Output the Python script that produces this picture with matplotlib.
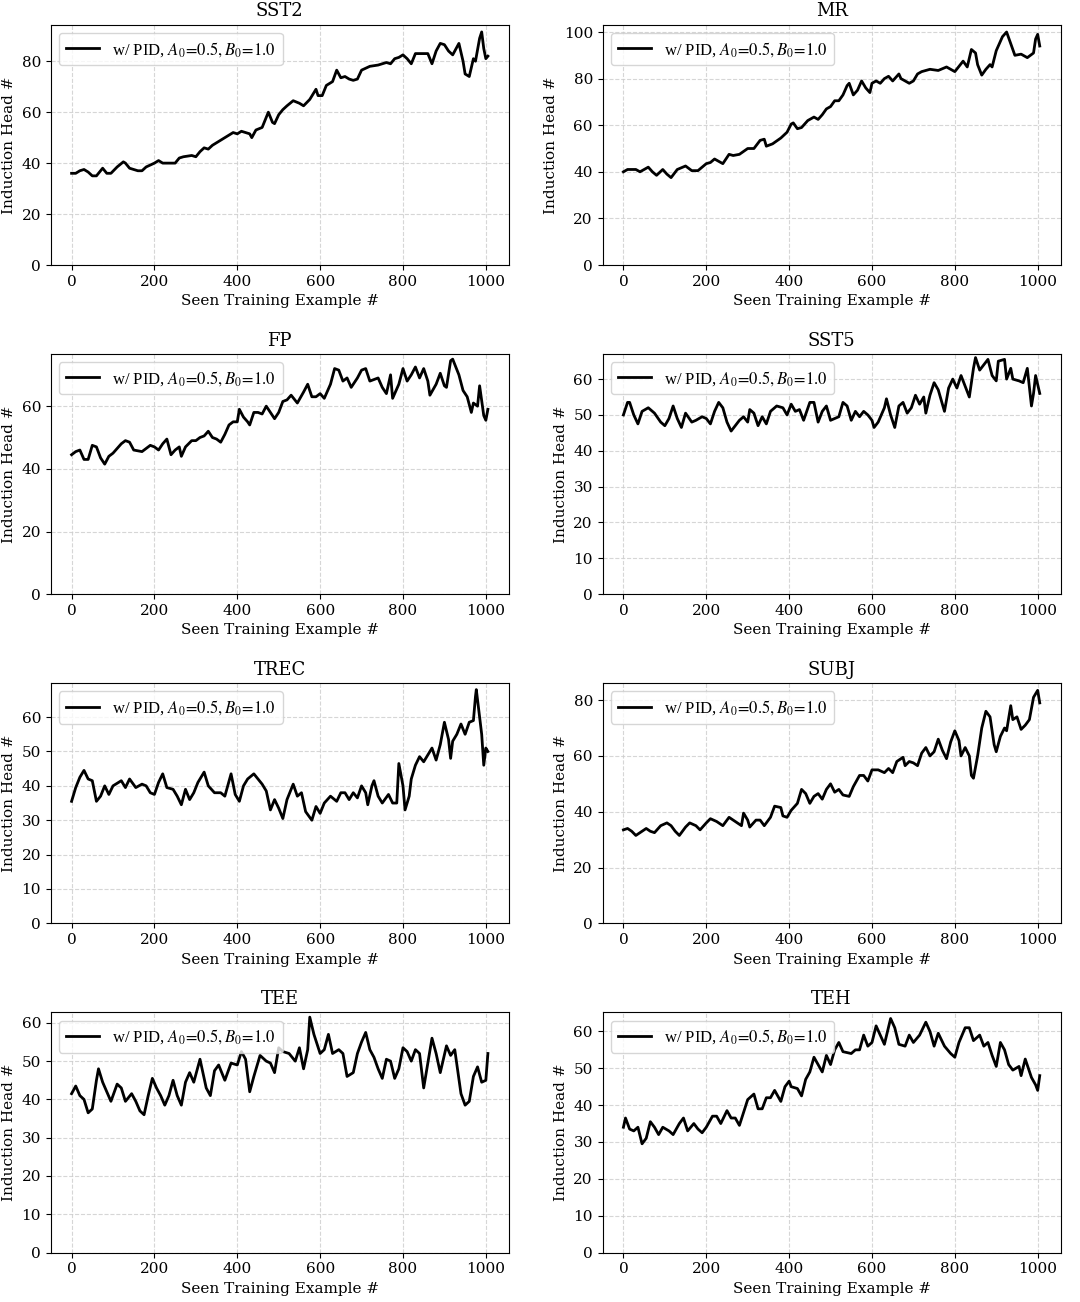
import matplotlib
matplotlib.use("Agg")
import matplotlib.pyplot as plt

plt.rcParams["font.family"] = "DejaVu Serif"
plt.rcParams["mathtext.fontset"] = "stix"

titles = ["SST2", "MR", "FP", "SST5", "TREC", "SUBJ", "TEE", "TEH"]
legend_label = r"w/ PID, $A_0\!=\!0.5, B_0\!=\!1.0$"

# (seen example, induction head count)
sst2 = [(0, 36), (10, 36), (20, 37), (30, 37.5), (40, 36.5), (50, 35), (60, 35), (70, 37),
        (75, 38), (85, 36), (95, 36), (110, 38.5), (125, 40.5), (130, 40), (140, 38),
        (160, 37), (170, 37), (180, 38.5), (200, 40), (210, 41), (220, 40), (240, 40),
        (250, 40), (260, 42), (270, 42.5), (290, 43), (300, 42.5), (310, 44.5), (320, 46),
        (330, 45.5), (340, 47), (360, 49), (380, 51), (390, 52), (400, 51.5), (410, 52.5),
        (420, 52), (430, 51.5), (435, 50), (445, 53), (460, 54), (470, 58), (475, 60),
        (485, 56), (490, 55.5), (500, 59), (510, 61), (520, 62.5), (535, 64.5), (550, 63.5),
        (560, 62.5), (575, 65), (590, 69), (595, 66.5), (605, 66.5), (615, 70.5), (630, 72),
        (640, 76.5), (650, 73.5), (660, 74), (670, 73), (680, 72.5), (690, 73), (700, 76.5),
        (720, 78), (740, 78.5), (760, 79.5), (770, 79), (780, 81), (790, 81.5), (800, 82.5),
        (810, 81), (820, 79), (830, 83), (850, 83), (860, 83), (870, 79), (880, 84),
        (890, 87), (900, 86.5), (910, 84), (920, 82.5), (935, 87), (945, 80), (950, 75),
        (960, 74), (970, 81), (975, 80), (985, 89), (990, 91.5), (995, 85), (1000, 81),
        (1005, 82)]

mr = [(0, 40), (10, 41), (30, 41), (40, 40), (60, 42), (70, 40), (80, 38.5), (95, 41),
      (105, 39), (115, 37.5), (130, 41), (150, 42.5), (165, 40.5), (180, 40.5), (190, 42),
      (200, 43.5), (210, 44), (220, 45.5), (235, 44), (240, 43.5), (255, 47.5), (265, 47),
      (280, 47.5), (300, 50), (315, 50), (330, 53.5), (340, 54), (345, 51), (360, 52),
      (380, 54.5), (395, 57), (405, 60.5), (410, 61), (420, 58.5), (430, 59), (445, 62),
      (460, 63.5), (470, 62.5), (480, 64.5), (490, 67), (500, 68), (510, 70.5), (520, 70.5),
      (530, 73), (540, 77), (545, 78), (555, 73), (565, 75), (575, 79), (585, 76), (595, 74),
      (600, 78), (610, 79), (620, 78), (630, 80), (640, 81), (650, 79), (665, 82), (670, 80),
      (680, 79), (690, 78), (700, 79), (710, 82), (720, 83), (740, 84), (760, 83.5),
      (780, 85), (800, 83), (820, 87.5), (830, 85), (840, 92.5), (850, 91), (855, 86),
      (865, 81.5), (875, 84), (885, 86), (890, 85), (900, 92), (915, 98), (925, 100),
      (935, 95), (945, 90), (960, 90.5), (975, 89), (990, 91), (995, 97), (1000, 99),
      (1005, 94)]

fp = [(0, 44.5), (10, 45.5), (20, 46), (30, 43), (40, 43), (50, 47.5), (60, 47), (70, 43.5),
      (75, 42.5), (80, 41.5), (90, 44), (100, 45), (110, 46.5), (120, 48), (130, 49),
      (140, 48.5), (150, 46), (170, 45.5), (180, 46.5), (190, 47.5), (200, 47), (210, 46),
      (220, 48), (230, 49.5), (240, 44.5), (250, 46), (260, 47), (265, 44), (275, 47),
      (290, 49), (300, 49), (310, 50), (320, 50.5), (330, 52), (340, 50), (350, 49.5),
      (360, 48.5), (370, 51), (380, 54), (390, 55), (400, 55), (405, 59), (415, 56.5),
      (425, 55), (430, 54), (440, 58), (450, 58), (460, 57.5), (470, 60), (480, 58),
      (490, 56), (500, 58), (510, 61.5), (520, 62), (530, 63.5), (545, 61), (560, 64.5),
      (570, 67), (580, 63), (590, 63), (600, 64), (610, 62.5), (625, 67), (635, 72),
      (645, 71.5), (655, 68), (665, 69), (675, 66), (690, 69), (700, 71.5), (710, 72),
      (720, 68), (730, 68.5), (740, 69), (750, 66), (760, 64), (770, 70), (775, 62.5),
      (790, 67), (800, 72), (810, 68), (820, 70), (830, 72.5), (840, 69), (850, 72),
      (860, 68), (865, 63.5), (880, 67), (890, 70.5), (900, 66.5), (905, 66), (915, 74.5),
      (920, 75), (935, 70), (945, 65), (955, 63), (965, 58), (970, 61), (980, 60),
      (985, 66.5), (995, 57), (1000, 55.5), (1005, 59)]

sst5 = [(0, 50), (10, 53.5), (15, 53.5), (25, 50), (35, 47.5), (45, 51), (60, 52), (75, 50.5),
        (90, 48), (100, 47), (110, 49), (120, 52.5), (130, 49), (140, 46.5), (150, 50.5),
        (165, 48), (175, 48.5), (190, 49.5), (200, 49), (210, 47.5), (220, 51), (230, 53.5),
        (240, 52), (250, 48), (260, 45.5), (270, 47), (280, 48.5), (290, 49.5), (300, 48),
        (305, 51.5), (315, 50.5), (325, 47), (335, 49.5), (345, 47.5), (355, 51), (370, 52.5),
        (385, 52), (395, 50), (405, 53), (415, 51), (425, 51.5), (435, 48.5), (450, 53.5),
        (460, 53.5), (470, 48), (480, 51), (490, 52.5), (500, 48.5), (510, 49), (520, 49.5),
        (530, 53.5), (540, 52.5), (550, 48.5), (560, 51), (570, 49.5), (580, 51), (590, 50),
        (600, 48.5), (605, 46.5), (615, 48), (630, 52), (635, 54.5), (645, 50), (655, 46.5),
        (665, 52.5), (675, 53.5), (685, 50.5), (695, 52), (705, 55.5), (715, 53), (725, 55),
        (730, 50.5), (740, 55.5), (750, 59), (760, 57), (775, 51), (785, 57.5), (795, 60),
        (805, 57.5), (815, 61), (825, 58), (835, 55), (845, 63), (850, 66), (860, 62.5),
        (870, 64), (880, 65.5), (890, 61), (900, 59.5), (905, 65), (920, 65.5), (925, 60),
        (935, 63), (940, 60), (955, 59.5), (965, 59), (975, 63), (985, 52.5), (990, 56),
        (995, 61), (1005, 56)]

trec = [(0, 35.5), (10, 39.5), (20, 42.5), (30, 44.5), (40, 42), (50, 41.5), (60, 35.5),
        (70, 37), (80, 40), (90, 37.5), (100, 40), (120, 41.5), (130, 39.5), (140, 42),
        (155, 39.5), (170, 40.5), (180, 40), (190, 38), (200, 37.5), (210, 41), (220, 43.5),
        (230, 39.5), (245, 39), (255, 37), (265, 34.5), (275, 39), (285, 36), (295, 38),
        (305, 41), (320, 44), (330, 40), (345, 38), (360, 38), (370, 37), (385, 43.5),
        (395, 37.5), (405, 35.5), (415, 40), (425, 42), (440, 43.5), (450, 42), (460, 40.5),
        (470, 38.5), (480, 33), (490, 36), (500, 33.5), (510, 30.5), (520, 36), (535, 40.5),
        (545, 37), (555, 38), (565, 32.5), (580, 30), (590, 34), (600, 32), (610, 35),
        (625, 37), (640, 35.5), (650, 38), (660, 38), (670, 36), (680, 38), (690, 36.5),
        (700, 40), (710, 38), (715, 34.5), (725, 40), (730, 41.5), (740, 37), (750, 35),
        (765, 37.5), (775, 35), (785, 35), (790, 46.5), (800, 40), (805, 33), (815, 37),
        (820, 42), (830, 46), (840, 48.5), (850, 47), (860, 49), (870, 51), (880, 47.5),
        (890, 52), (900, 58.5), (910, 53.5), (915, 48), (920, 53), (930, 55), (940, 58),
        (950, 55), (960, 58.5), (970, 59), (975, 66), (977, 68), (985, 60), (990, 55),
        (995, 46), (1000, 51), (1005, 50)]

subj = [(0, 33.5), (10, 34), (20, 33), (30, 31.5), (40, 32.5), (55, 34), (65, 33), (75, 32.5),
        (90, 35), (105, 36), (115, 35), (125, 33), (135, 31.5), (150, 34.5), (160, 36),
        (175, 35), (185, 33.5), (200, 36), (210, 37.5), (225, 36.5), (240, 35), (255, 38),
        (270, 36.5), (285, 35), (290, 39.5), (300, 37), (305, 34.5), (320, 37), (330, 37),
        (340, 35), (355, 38), (365, 42), (380, 41.5), (385, 38.5), (395, 38), (405, 40.5),
        (420, 43), (430, 48), (440, 46.5), (450, 43), (460, 45.5), (470, 46.5), (480, 44.5),
        (490, 48), (500, 50), (510, 47), (520, 48), (530, 46), (545, 45.5), (555, 49),
        (570, 53), (580, 53), (590, 51), (600, 55), (615, 55), (630, 54), (640, 55.5),
        (650, 54), (660, 58), (675, 59.5), (680, 56.5), (690, 58), (700, 57.5), (710, 56.5),
        (720, 61), (730, 63), (740, 60), (750, 61.5), (760, 66), (770, 62), (780, 59),
        (790, 65), (800, 69), (810, 65.5), (815, 60), (825, 63), (835, 60), (840, 53),
        (845, 52), (855, 60), (865, 70), (875, 76), (885, 74), (895, 64), (900, 61.5),
        (910, 67), (920, 70), (925, 69), (935, 78), (940, 73), (950, 74), (960, 69.5),
        (970, 71), (980, 73), (990, 81), (1000, 83.5), (1005, 79)]

tee = [(0, 41.5), (10, 43.5), (20, 41), (30, 40), (40, 36.5), (50, 37.5), (60, 45), (65, 48),
       (75, 44.5), (85, 42), (95, 39.5), (110, 44), (120, 43), (130, 39.5), (145, 41.5),
       (155, 39.5), (165, 37), (175, 36), (185, 41), (195, 45.5), (205, 43), (215, 41),
       (225, 38.5), (235, 41), (245, 45), (255, 41), (265, 38.5), (275, 44.5), (285, 47),
       (295, 44.5), (310, 50.5), (325, 43), (335, 41), (345, 47.5), (355, 49), (370, 45),
       (385, 49.5), (400, 49), (410, 52.5), (420, 50.5), (430, 42), (440, 46), (455, 51.5),
       (470, 50), (480, 49.5), (490, 47), (500, 53.5), (510, 52.5), (525, 52), (540, 50),
       (550, 53.5), (560, 48), (570, 53), (575, 61.5), (585, 57), (600, 52), (610, 53),
       (620, 57), (630, 52), (645, 53), (655, 52), (665, 46), (680, 47), (690, 52),
       (700, 55), (710, 57.5), (720, 53), (730, 51), (740, 48), (750, 45.5), (760, 50.5),
       (770, 50), (780, 45.5), (790, 48), (800, 53.5), (810, 52.5), (820, 50), (830, 53),
       (840, 52), (850, 43), (860, 49.5), (870, 56), (880, 52), (890, 47), (905, 54),
       (915, 51.5), (925, 53), (940, 41.5), (950, 38.5), (960, 39.5), (970, 46), (980, 48.5),
       (990, 44.5), (1000, 45), (1005, 52)]

teh = [(0, 34), (5, 36.5), (15, 33.5), (25, 33), (35, 34), (45, 29.5), (55, 31), (65, 35.5),
       (75, 34), (85, 32), (95, 34), (110, 33), (120, 32), (135, 35), (145, 36.5), (155, 33),
       (170, 35), (180, 33.5), (190, 32.5), (200, 34), (215, 37), (225, 37), (235, 35),
       (250, 38.5), (260, 36.5), (270, 36.5), (280, 34.5), (290, 38), (300, 41.5), (315, 43),
       (325, 39), (335, 39), (345, 42), (355, 42), (365, 44), (380, 41), (390, 45),
       (400, 46.5), (405, 45), (420, 44.5), (430, 42.5), (440, 47), (450, 49), (460, 53),
       (470, 51), (480, 49), (490, 53.5), (500, 51), (510, 55), (520, 57), (530, 54.5),
       (550, 54), (560, 55), (570, 55), (580, 59), (590, 56), (600, 57), (610, 61.5),
       (620, 59), (630, 56.5), (645, 63.5), (655, 61), (665, 56.5), (680, 56), (690, 59),
       (700, 57), (715, 59), (730, 62.5), (740, 60), (750, 56), (760, 59.5), (775, 56),
       (790, 54), (800, 53), (810, 57), (825, 61), (835, 61), (845, 57.5), (860, 59),
       (870, 56), (880, 57), (890, 53.5), (900, 50.5), (910, 57), (920, 55), (930, 51),
       (940, 49.5), (955, 50.5), (960, 48), (970, 52.5), (985, 47.5), (995, 45.5),
       (1000, 44), (1005, 48)]

series = [sst2, mr, fp, sst5, trec, subj, tee, teh]

fig, axes = plt.subplots(4, 2, figsize=(10.8, 13.02), dpi=100)
fig.subplots_adjust(left=0.047, right=0.982, bottom=0.038, top=0.981,
                    wspace=0.205, hspace=0.37)

for ax, title, pts in zip(axes.flat, titles, series):
    xs, ys = zip(*pts)
    ax.plot(xs, ys, color="black", lw=2.0, label=legend_label)
    ax.set_ylim(bottom=0)
    ax.set_title(title, fontsize=13)
    ax.set_xlabel("Seen Training Example #", fontsize=11)
    ax.set_ylabel("Induction Head #", fontsize=11)
    ax.tick_params(labelsize=11)
    ax.grid(True, linestyle="--", color="#cccccc", alpha=0.8)
    ax.legend(loc="upper left", prop={"family": "Liberation Serif", "size": 12})

fig.savefig("out.png", dpi=100)
